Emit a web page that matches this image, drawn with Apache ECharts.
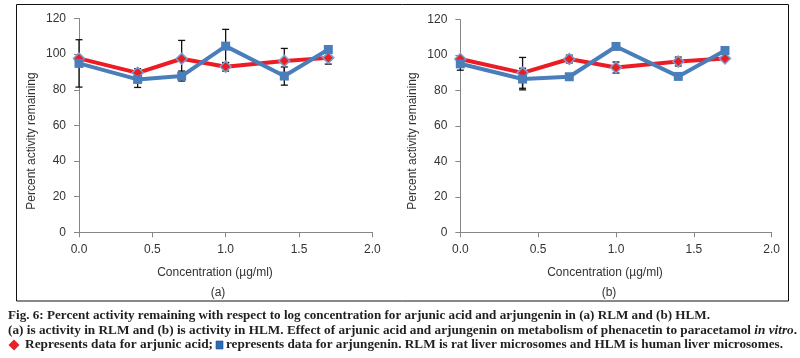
<!DOCTYPE html>
<html>
<head>
<meta charset="utf-8">
<script src="https://cdn.jsdelivr.net/npm/echarts@6/dist/echarts.min.js"></script>
<style>
html,body{margin:0;padding:0;background:#fff;}
#chart{width:800px;height:358px;}
</style>
</head>
<body>
<div id="chart"></div>
<script>
// ---- data ----
const concentrations = [0, 0.4, 0.7, 1.0, 1.4, 1.7];
const xTicks = [0, 0.5, 1.0, 1.5, 2.0];
const yTicks = [0, 20, 40, 60, 80, 100, 120];

const rlmArjunic = [97.6, 89.5, 97.4, 92.9, 96.2, 97.9];
const rlmArjungenin = [94.8, 85.8, 87.7, 104.5, 87.7, 102.6];
const rlmArjunicErr = [null, 2.3, 10.3, 2.4, 7.0, 3.5];
const rlmArjungeninErr = [13.3, 4.5, 2.8, 9.4, 5.1, null];

const hlmArjunic = [97.8, 90.0, 97.8, 93.0, 96.4, 98.1];
const hlmArjungenin = [95.1, 86.5, 87.8, 104.9, 88.0, 102.6];
const hlmArjunicErr = [null, 8.7, 2.2, 3.1, 2.5, null];
const hlmArjungeninErr = [3.6, 6.1, null, null, null, null];

const panelLabels = ['(a)', '(b)'];
const xAxisTitle = 'Concentration (µg/ml)';
const yAxisTitle = 'Percent activity remaining';
const captionLine1 = 'Fig. 6: Percent activity remaining with respect to log concentration for arjunic acid and arjungenin in (a) RLM and (b) HLM.';
const captionLine2a = '(a) is activity in RLM and (b) is activity in HLM. Effect of arjunic acid and arjungenin on metabolism of phenacetin to paracetamol ';
const captionLine2b = 'in vitro';
const captionLine2c = '.';
const captionLine3a = 'Represents data for arjunic acid;';
const captionLine3b = 'represents data for arjungenin. RLM is rat liver microsomes and HLM is human liver microsomes.';

// ---- helpers ----
const RED = '#ec1c24';
const BLUE = '#4a7ebb';
const sans = 'Liberation Sans, Arial, sans-serif';
const serif = 'Liberation Serif, Times New Roman, serif';

function pairs(xs, ys) { return xs.map((x, i) => [x, ys[i]]); }
function errData(xs, ys, es) {
  const out = [];
  xs.forEach((x, i) => { if (es[i] != null) out.push([x, ys[i] - es[i], ys[i] + es[i]]); });
  return out;
}
function renderErr(params, api) {
  const x = api.value(0);
  const lo = api.coord([x, api.value(1)]);
  const hi = api.coord([x, api.value(2)]);
  const h = 3.5;
  const st = { stroke: '#111', lineWidth: 1.3 };
  return {
    type: 'group',
    children: [
      { type: 'line', shape: { x1: hi[0], y1: hi[1], x2: lo[0], y2: lo[1] }, style: st },
      { type: 'line', shape: { x1: hi[0] - h, y1: hi[1], x2: hi[0] + h, y2: hi[1] }, style: st },
      { type: 'line', shape: { x1: lo[0] - h, y1: lo[1], x2: lo[0] + h, y2: lo[1] }, style: st }
    ]
  };
}

const ctx = document.createElement('canvas').getContext('2d');
function measure(text, font) { ctx.font = font; return ctx.measureText(text).width; }
const capFontSize = 12.5;
const capFont = 'bold ' + capFontSize + 'px ' + serif;
const capFontI = 'italic bold ' + capFontSize + 'px ' + serif;

function fitText(text, x0, x1, y) {
  const w = measure(text, capFont);
  return {
    type: 'text', x: x0, y: y, scaleX: (x1 - x0) / w, silent: true,
    style: { text: text, font: capFont, fill: '#231f20', textAlign: 'left', textVerticalAlign: 'middle' }
  };
}

const w2 = measure(captionLine2a, capFont) + measure(captionLine2b, capFontI) + measure(captionLine2c, capFont);

const axisCommon = {
  axisLine: { show: true, lineStyle: { color: '#868686', width: 1 } },
  axisTick: { show: true, inside: false, length: 5, lineStyle: { color: '#868686' } },
  splitLine: { show: false }
};

function xAxis(gi) {
  return Object.assign({}, axisCommon, {
    type: 'value', gridIndex: gi, min: xTicks[0], max: xTicks[xTicks.length - 1], interval: 0.5,
    axisLabel: { margin: 11, fontSize: 12, fontFamily: sans, color: '#333',
      formatter: v => v.toFixed(1) }
  });
}
function yAxis(gi) {
  return Object.assign({}, axisCommon, {
    type: 'value', gridIndex: gi, min: yTicks[0], max: yTicks[yTicks.length - 1], interval: 20,
    axisLabel: { margin: 13, fontSize: 12, fontFamily: sans, color: '#333' }
  });
}

function panelSeries(gi, red, blue, redErr, blueErr) {
  return [
    { type: 'custom', xAxisIndex: gi, yAxisIndex: gi, z: 1, renderItem: renderErr,
      data: errData(concentrations, red, redErr), silent: true },
    { type: 'custom', xAxisIndex: gi, yAxisIndex: gi, z: 1, renderItem: renderErr,
      data: errData(concentrations, blue, blueErr), silent: true },
    { type: 'line', xAxisIndex: gi, yAxisIndex: gi, z: 3, data: pairs(concentrations, red),
      lineStyle: { color: RED, width: 4 }, symbol: 'diamond', symbolSize: 11,
      itemStyle: { color: RED, borderColor: '#7d9fd0', borderWidth: 1.5 }, animation: false },
    { type: 'line', xAxisIndex: gi, yAxisIndex: gi, z: 4, data: pairs(concentrations, blue),
      lineStyle: { color: BLUE, width: 4 }, symbol: 'rect', symbolSize: 9,
      itemStyle: { color: BLUE }, animation: false }
  ];
}

function axisTitle(text, x, y, rot) {
  return { type: 'text', x: x, y: y, rotation: rot || 0, silent: true,
    style: { text: text, font: '12px ' + sans, fill: '#333', textAlign: 'center', textVerticalAlign: 'middle' } };
}

const chart = echarts.init(document.getElementById('chart'), null, { renderer: 'canvas' });
chart.setOption({
  animation: false,
  backgroundColor: '#fff',
  grid: [
    { left: 79, top: 18.5, width: 293.3, height: 213.8 },
    { left: 460.3, top: 19.7, width: 311.4, height: 212.6 }
  ],
  xAxis: [xAxis(0), xAxis(1)],
  yAxis: [yAxis(0), yAxis(1)],
  series: [].concat(
    panelSeries(0, rlmArjunic, rlmArjungenin, rlmArjunicErr, rlmArjungeninErr),
    panelSeries(1, hlmArjunic, hlmArjungenin, hlmArjunicErr, hlmArjungeninErr)
  ),
  graphic: [
    { type: 'rect', silent: true, shape: { x: 16.5, y: 4.5, width: 772, height: 296.5 },
      style: { fill: null, stroke: '#111', lineWidth: 1 } },
    axisTitle(yAxisTitle, 32, 141, Math.PI / 2),
    axisTitle(yAxisTitle, 413, 141, Math.PI / 2),
    axisTitle(xAxisTitle, 215, 273),
    axisTitle(xAxisTitle, 605, 273),
    axisTitle(panelLabels[0], 218, 293),
    axisTitle(panelLabels[1], 609, 293),
    fitText(captionLine1, 8, 710, 316),
    {
      type: 'text', x: 8, y: 330.5, scaleX: (797 - 8) / w2, silent: true,
      style: {
        text: '{n|' + captionLine2a + '}{i|' + captionLine2b + '}{n|' + captionLine2c + '}',
        textAlign: 'left', textVerticalAlign: 'middle',
        rich: {
          n: { font: capFont, fill: '#231f20' },
          i: { font: capFontI, fill: '#231f20' }
        }
      }
    },
    { type: 'polygon', silent: true, shape: { points: [[14, 339.5], [19.5, 345], [14, 350.5], [8.5, 345]] },
      style: { fill: '#e8202a' } },
    fitText(captionLine3a, 25, 213, 345),
    { type: 'rect', silent: true, shape: { x: 216, y: 341, width: 7, height: 8 },
      style: { fill: '#2e6db4', stroke: '#1f4f8a', lineWidth: 0.6 } },
    fitText(captionLine3b, 226, 783, 345)
  ]
});
</script>
</body>
</html>
